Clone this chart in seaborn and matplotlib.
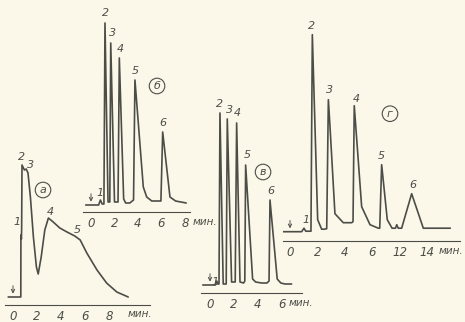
import matplotlib
matplotlib.use("Agg")
import matplotlib.pyplot as plt
import seaborn as sns

# хроматограммы: время (мин) и сигнал (усл. ед. над базовой линией)
t_a = [-0.4, 0.65, 0.66, 0.70, 0.72, 0.75, 0.95, 1.1, 1.25, 1.45, 1.7, 1.95, 2.1,
       2.35, 2.65, 2.95, 3.35, 3.9, 4.5, 5.15, 5.6, 6.15, 7.0, 7.8, 8.65, 9.6]
s_a = [0, 0, 62, 58, 68, 132, 127, 128, 124, 100, 60, 30, 23,
       40, 67, 79, 75, 69, 65, 61, 57, 44, 27, 14, 5, 0]

t_b = [-0.45, 0.65, 0.8, 0.95, 1.1, 1.19, 1.45, 1.6, 1.68, 2.0, 2.3, 2.41, 2.78,
       2.95, 3.3, 3.62, 3.74, 4.45, 4.74, 5.17, 5.75, 5.95, 6.1, 6.72, 7.2, 8.1]
s_b = [0, 0, 5, 1, 1, 182, 3, 3, 162, 3, 3, 147, 6,
       2, 2, 5, 125, 18, 8, 4, 4, 4, 73, 8, 4, 2]

t_v = [-0.6, 0.45, 0.56, 0.66, 0.75, 0.83, 1.1, 1.35, 1.44, 1.8, 2.1, 2.22, 2.5,
       2.8, 2.9, 2.97, 3.55, 3.8, 4.3, 4.75, 4.92, 5.0, 5.6, 5.9, 6.25, 6.8]
s_v = [0, 0, 4, 1, 1, 172, 1, 1, 166, 3, 3, 162, 3,
       2, 4, 120, 6, 3, 2, 2, 4, 85, 6, 2, 1, 1]

t_g = [-0.5, 0.85, 1.02, 1.15, 1.53, 1.63, 2.02, 2.31, 2.5, 2.68, 2.8, 2.92, 3.28,
       3.89, 4.5, 4.6, 4.69, 5.23, 5.84, 6.45, 6.55, 6.69, 7.1, 7.45, 7.7, 7.79,
       7.9, 8.15, 8.88, 9.73, 11.7]
s_g = [0, 0, 3.5, 0.5, 0.5, 197, 12, 2.5, 2.5, 3, 132, 105, 18,
       9, 9, 10, 126, 25, 7, 3.5, 3.5, 67, 12, 3.5, 3.5, 7,
       3.5, 3.5, 38, 3.5, 3.5]

# номера пиков и места подписей
peaks = ["1", "2", "3", "4", "5", "6"]
lab_a = [(0.33, 75), (0.67, 140), (1.5, 132), (3.1, 85), (5.33, 67)]
lab_b = [(0.75, 12), (1.25, 192), (1.8, 172), (2.5, 156), (3.8, 134), (6.15, 82)]
lab_v = [(0.45, 3), (0.83, 181), (1.6, 175), (2.3, 172), (3.1, 130), (5.08, 94)]
lab_g = [(1.2, 12), (1.6, 206), (2.88, 142), (4.83, 133), (6.69, 76), (8.95, 47)]

ticks_a = [0, 2, 4, 6, 8]
ticks_b = [0, 2, 4, 6, 8]
ticks_v = [0, 2, 4, 6]
ticks_g = [0, 2, 4, 6, 8, 10]
ticklabels_g = ["0", "2", "4", "6", "12", "14"]

sns.set_style("white")
plt.rcParams['font.family'] = ['DejaVu Sans']

paper = '#fbf8ea'
ink = '#4d4d48'
W, H = 465, 322

fig = plt.figure(figsize=(W / 100, H / 100), dpi=100, facecolor=paper)


def panel(L, R, T, B, base, x0, k):
    # оси по пикселям картинки
    ax = fig.add_axes([L / W, 1 - B / H, (R - L) / W, (B - T) / H])
    ax.set_facecolor('none')
    ax.set_xlim((L - x0) / k, (R - x0) / k)
    ax.set_ylim(-(B - base), base - T)
    for sp in ['left', 'top', 'right']:
        ax.spines[sp].set_visible(False)
    ax.spines['bottom'].set_color(ink)
    ax.spines['bottom'].set_linewidth(0.8)
    ax.set_yticks([])
    ax.tick_params(axis='x', direction='inout', length=4, width=0.8, color=ink,
                   pad=1.5, labelsize=8.5, labelcolor=ink)
    return ax


def draw(ax, t, s, labels, letter, letter_pos, ticks, ticklabels=None):
    sns.lineplot(x=t, y=s, ax=ax, color=ink, lw=1.2, sort=False, estimator=None)
    ax.annotate('', xy=(0, 0.5), xytext=(0, 14),
                arrowprops=dict(arrowstyle='->', color=ink, lw=0.7,
                                mutation_scale=6))
    for name, (x, y) in zip(peaks, labels):
        ax.text(x, y, name, ha='center', va='center', fontsize=8,
                style='italic', color=ink)
    ax.text(letter_pos[0], letter_pos[1], letter, ha='center', va='center',
            fontsize=8, style='italic', color=ink,
            bbox=dict(boxstyle='circle,pad=0.25', fc='none', ec=ink, lw=0.8))
    ax.set_xticks(ticks)
    ax.set_xticklabels(ticklabels if ticklabels else [str(v) for v in ticks],
                       style='italic')
    ax.set_xlabel('')


ax_a = panel(5, 150, 150, 305, 297, 13, 12)
draw(ax_a, t_a, s_a, lab_a, 'а', (2.5, 107), ticks_a)

ax_b = panel(83, 190, 5, 212, 205, 91, 11.75)
draw(ax_b, t_b, s_b, lab_b, 'б', (5.62, 119), ticks_b)

ax_v = panel(201, 302, 95, 293, 285, 210, 12)
draw(ax_v, t_v, s_v, lab_v, 'в', (4.42, 113), ticks_v)

ax_g = panel(283, 460, 10, 241, 231.7, 290, 13.7)
draw(ax_g, t_g, s_g, lab_g, 'г', (7.3, 118), ticks_g, ticklabels_g)

for px, py in [(140, 314), (205, 222), (301, 303), (451, 251)]:
    fig.text(px / W, 1 - py / H, 'мин.', ha='center', va='center',
             fontsize=7.5, style='italic', color=ink)

fig.savefig('out.png', dpi=100, facecolor=paper)
